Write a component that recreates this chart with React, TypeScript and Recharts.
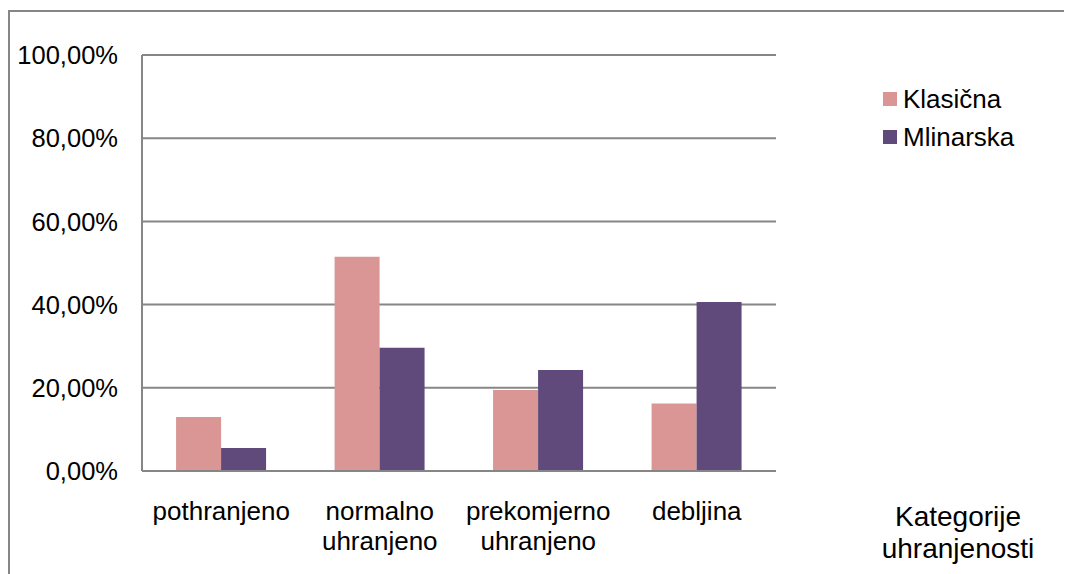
import { Bar, BarChart, CartesianGrid, XAxis, YAxis } from "recharts";

const categories = ["pothranjeno", "normalno\nuhranjeno", "prekomjerno\nuhranjeno", "debljina"];
const klasicna = [0.13, 0.515, 0.195, 0.162];
const mlinarska = [0.055, 0.296, 0.243, 0.406];
const yTicks = [0, 0.2, 0.4, 0.6, 0.8, 1];

const seriesMeta = [
  { key: "klasicna", label: "Klasična", color: "#D99694" },
  { key: "mlinarska", label: "Mlinarska", color: "#604A7B" },
];

const data = categories.map((name, i) => ({
  name,
  klasicna: klasicna[i],
  mlinarska: mlinarska[i],
}));

const FONT = "'Liberation Sans', Arial, sans-serif";
const GRID = "#868686";

const pct = (v: number) => (v * 100).toFixed(2).replace(".", ",") + "%";

function XTick({ x, y, payload }: any) {
  const lines = String(payload.value).split("\n");
  return (
    <text x={x} y={y} textAnchor="middle" fontFamily={FONT} fontSize={26} fill="#000">
      {lines.map((line, i) => (
        <tspan key={i} x={x} y={y + 41 + i * 30}>
          {line}
        </tspan>
      ))}
    </text>
  );
}

function YTick({ x, y, payload }: any) {
  return (
    <text x={x} y={y} dy="0.36em" textAnchor="end" fontFamily={FONT} fontSize={25.5} fill="#000">
      {pct(payload.value)}
    </text>
  );
}

function LegendBox() {
  return (
    <div style={{ position: "absolute", left: 875, top: 72, fontFamily: FONT, fontSize: 26, color: "#000" }}>
      {seriesMeta.map((s) => (
        <div key={s.key} style={{ display: "flex", alignItems: "center", height: 38 }}>
          <span style={{ width: 14, height: 14, background: s.color, marginRight: 6 }} />
          <span>{s.label}</span>
        </div>
      ))}
    </div>
  );
}

function AxisTitle() {
  return (
    <text x={950} y={518} textAnchor="middle" fontFamily={FONT} fontSize={28} fill="#000">
      <tspan x={950} y={518}>Kategorije</tspan>
      <tspan x={950} y={550}>uhranjenosti</tspan>
    </text>
  );
}

export default function App() {
  return (
    <div style={{ position: "relative", width: 1064, height: 566, overflow: "hidden", background: "#fff" }}>
      <div
        style={{
          position: "absolute",
          left: 0,
          top: 2,
          width: 1200,
          height: 700,
          borderTop: `2px solid ${GRID}`,
          borderLeft: `2px solid ${GRID}`,
        }}
      />
      <div style={{ position: "absolute", left: 0, top: 0 }}>
        <BarChart
          width={1064}
          height={566}
          data={data}
          margin={{ top: 47, right: 296, bottom: 0, left: 0 }}
          barCategoryGap="21.5%"
          barGap={0}
        >
          <CartesianGrid horizontal vertical={false} stroke={GRID} strokeWidth={2} />
          <XAxis
            dataKey="name"
            tick={<XTick />}
            tickLine={false}
            axisLine={{ stroke: GRID, strokeWidth: 2 }}
            interval={0}
            height={103}
            label={{ content: () => <AxisTitle /> }}
          />
          <YAxis
            width={134}
            domain={[0, 1]}
            ticks={yTicks}
            tick={<YTick />}
            tickLine={false}
            tickSize={0}
            tickMargin={24}
            axisLine={{ stroke: GRID, strokeWidth: 2 }}
          />
          {seriesMeta.map((s) => (
            <Bar key={s.key} dataKey={s.key} name={s.label} fill={s.color} isAnimationActive={false} />
          ))}
        </BarChart>
      </div>
      <LegendBox />
    </div>
  );
}
